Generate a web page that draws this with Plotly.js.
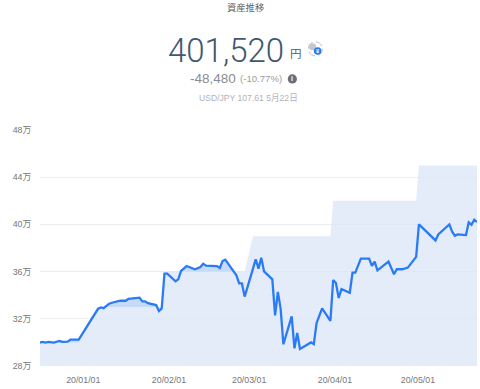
<!DOCTYPE html>
<html>
<head>
<meta charset="utf-8">
<script src="https://cdn.plot.ly/plotly-3.0.1.min.js"></script>
<style>html,body{margin:0;padding:0;background:#fff;overflow:hidden}#c{width:480px;height:389px}</style>
</head>
<body>
<div id="c"></div>
<script>
const assetDates = ["2019-12-16","2019-12-17","2019-12-18","2019-12-19","2019-12-21","2019-12-23","2019-12-24","2019-12-26","2019-12-27","2019-12-30",
"2020-01-06","2020-01-07","2020-01-08","2020-01-10","2020-01-11","2020-01-14","2020-01-16","2020-01-17","2020-01-21","2020-01-22","2020-01-23","2020-01-24","2020-01-27","2020-01-28","2020-01-29","2020-01-30","2020-01-31",
"2020-02-03","2020-02-04","2020-02-05","2020-02-07","2020-02-10","2020-02-12","2020-02-13","2020-02-14","2020-02-17","2020-02-18","2020-02-19","2020-02-20","2020-02-21","2020-02-22","2020-02-25","2020-02-26","2020-02-27","2020-02-28",
"2020-03-03","2020-03-04","2020-03-05","2020-03-06","2020-03-09","2020-03-10","2020-03-11","2020-03-12","2020-03-13","2020-03-16","2020-03-17","2020-03-18","2020-03-19","2020-03-23","2020-03-24","2020-03-25","2020-03-27","2020-03-30","2020-03-31",
"2020-04-01","2020-04-02","2020-04-03","2020-04-06","2020-04-07","2020-04-08","2020-04-10","2020-04-13","2020-04-14","2020-04-15","2020-04-16","2020-04-20","2020-04-22","2020-04-23","2020-04-25","2020-04-27","2020-04-30",
"2020-05-01","2020-05-07","2020-05-08","2020-05-12","2020-05-13","2020-05-14","2020-05-15","2020-05-18","2020-05-19","2020-05-20","2020-05-21","2020-05-22"];
const assetValues = [29.99,30.04,29.99,30.04,29.99,30.13,30.04,30.07,30.24,30.24,
32.85,32.96,32.9,33.28,33.36,33.53,33.53,33.7,33.79,33.48,33.48,33.33,33.16,32.65,32.88,35.82,35.82,
35.18,35.34,36.05,36.47,36.19,36.39,36.67,36.5,36.45,36.47,36.31,36.9,37.01,36.67,35.68,35.0,35.0,33.88,
37.04,36.25,37.18,36.02,35.34,32.29,34.27,32.86,29.84,32.21,29.5,30.8,29.44,30.0,29.86,31.64,32.89,31.83,35.29,
35.04,33.76,34.52,34.21,35.91,35.91,37.1,37.1,36.48,36.85,36.11,36.85,35.77,36.2,36.2,36.34,37.25,
40.0,38.64,39.15,40.0,39.38,39.04,39.15,39.09,40.17,39.97,40.4,40.2];
const investedDates = ["2019-12-16","2019-12-30","2020-01-06","2020-01-29","2020-01-30","2020-02-28","2020-03-02","2020-03-30","2020-03-31","2020-04-30","2020-05-01","2020-05-22"];
const investedValues = [30,30,33,33,36,36,39,39,42,42,45,45];
const yTicks = [28,32,36,40,44,48];
const yLabels = ["28万","32万","36万","40万","44万","48万"];
const xTicks = ["2020-01-01","2020-02-01","2020-03-01","2020-04-01","2020-05-01"];
const xLabels = ["20/01/01","20/02/01","20/03/01","20/04/01","20/05/01"];
const xRange = ["2019-12-16","2020-05-22"];
const titleText = "資産推移", totalText = "401,520", unitText = "円", diffText = "-48,480", pctText = "(-10.77%)", fxText = "USD/JPY 107.61 5月22日";

const W=480,H=389,mL=40.4,mR=3,mT=130,mB=23.4;
const px=x=>(x-mL)/(W-mL-mR), py=y=>1-(y-mT)/(H-mT-mB);
const SANS="'Liberation Sans',Arial,sans-serif";
function note(text,x,y,size,color,anchor,family,weight){
  return {text,x:px(x),y:py(y),xref:'paper',yref:'paper',xanchor:anchor||'left',yanchor:'middle',showarrow:false,
    borderpad:0,font:{size,color,family:family||SANS,weight:weight||400}};
}
function circle(cx,cy,r,fill,line,dash){
  return {type:'circle',xref:'paper',yref:'paper',x0:px(cx-r),x1:px(cx+r),y0:py(cy+r),y1:py(cy-r),
    fillcolor:fill,line:{color:line||'rgba(0,0,0,0)',width:line?1:0,dash:dash||'solid'},layer:'above'};
}
const gridX=[],gridY=[];
yTicks.slice(1).forEach(t=>{gridX.push(xRange[0],xRange[1],null);gridY.push(t,t,null);});

const traces=[
 {x:assetDates,y:assetValues,type:'scatter',mode:'none',fill:'tozeroy',fillcolor:'#c6dafa',hoverinfo:'skip'},
 {x:investedDates,y:investedValues,type:'scatter',mode:'none',fill:'tozeroy',fillcolor:'#e4ecfa',hoverinfo:'skip'},
 {x:gridX,y:gridY,type:'scatter',mode:'lines',line:{color:'rgba(60,70,90,0.025)',width:1},hoverinfo:'skip'},
 {x:assetDates,y:assetValues,type:'scatter',mode:'lines',line:{color:'#2b7bf5',width:2.3,shape:'linear'}}
];
const layout={
 width:W,height:H,showlegend:false,paper_bgcolor:'#fff',plot_bgcolor:'#fff',
 margin:{l:mL,r:mR,t:mT,b:mB,pad:0},
 xaxis:{type:'date',range:xRange,tickmode:'array',tickvals:xTicks,ticktext:xLabels,showgrid:false,zeroline:false,showline:false,
   ticks:'outside',ticklen:5,tickcolor:'rgba(0,0,0,0)',ticklabelshift:-1,tickfont:{size:8.8,color:'#777',family:SANS}},
 yaxis:{range:[28,48],tickmode:'array',tickvals:yTicks,ticktext:yLabels,showgrid:true,gridcolor:'#f0f1f3',gridwidth:1,zeroline:false,showline:false,
   ticks:'outside',ticklen:6,tickcolor:'rgba(0,0,0,0)',tickfont:{size:8.8,color:'#777',family:SANS+",'Noto Sans CJK JP'"}},
 annotations:[
  note(titleText,245.5,7,9.3,'#666','center',"'Noto Sans CJK JP'"),
  note(totalText,167.5,50.5,33,'#3e586f','left',"Roboto",300),
  note(unitText,289.5,53.5,11.5,'#4c5f72','left',"'Noto Sans CJK JP'"),
  note(diffText,189.5,78.5,13.5,'#8a8c92','left',SANS),
  note(pctText,239.5,79,9.6,'#999ba1','left',SANS),
  note(fxText,198,98,8.6,'#b0b3ba','left',SANS+",'Noto Sans CJK JP'"),
  note('i',292.5,79,7,'#fff','center',SANS,700),
  note('¥',317.8,51.2,5.5,'#fff','center',SANS,700)
 ],
 shapes:[
  circle(315.5,49,7,'rgba(0,0,0,0)','#bfc2c8','8px,3px'),
  circle(312.7,47,3.5,'#c4c7cc'),
  circle(317.8,51.2,3.8,'#2b7bf5'),
  circle(292.5,79,4.6,'#6a6e7c')
 ]
};
Plotly.newPlot('c',traces,layout,{displayModeBar:false,staticPlot:true});
</script>
</body>
</html>
